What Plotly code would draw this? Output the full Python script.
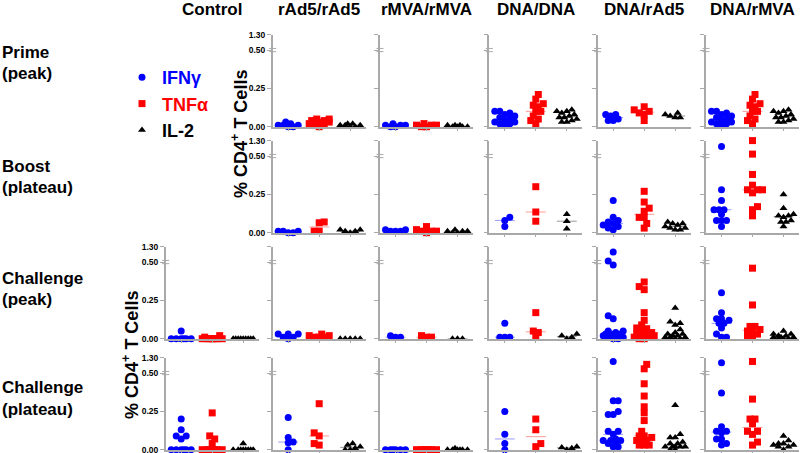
import plotly.graph_objects as go
import numpy as np

# ==========================================
# DATA (% CD4+ T cells)
# ==========================================
REGIMENS = ["Control", "rAd5/rAd5", "rMVA/rMVA", "DNA/DNA", "DNA/rAd5", "DNA/rMVA"]
TIMEPOINTS = [("Prime", "(peak)"), ("Boost", "(plateau)"),
              ("Challenge", "(peak)"), ("Challenge", "(plateau)")]
CYTOKINES = ["IFNγ", "TNFα", "IL-2"]

# one list per regimen, None = not measured
prime_ifng = [None,
              [0.03, 0.02, 0.01, 0.01, 0.01, 0.00, 0.00],
              [0.02, 0.01, 0.01, 0.01, 0.00, 0.00],
              [0.10, 0.10, 0.09, 0.08, 0.07, 0.06, 0.05, 0.04, 0.03, 0.03, 0.02, 0.02, 0.01],
              [0.08, 0.08, 0.07, 0.05, 0.04, 0.04],
              [0.10, 0.10, 0.09, 0.08, 0.07, 0.06, 0.05, 0.04, 0.03, 0.03, 0.02, 0.02, 0.01]]
prime_tnfa = [None,
              [0.05, 0.05, 0.04, 0.04, 0.03, 0.03, 0.02, 0.02, 0.01, 0.00],
              [0.02, 0.01, 0.01, 0.01, 0.00, 0.00],
              [0.21, 0.18, 0.15, 0.14, 0.13, 0.10, 0.10, 0.07, 0.05, 0.04, 0.02],
              [0.13, 0.11, 0.10, 0.09, 0.08, 0.04],
              [0.21, 0.18, 0.15, 0.14, 0.13, 0.10, 0.10, 0.07, 0.05, 0.04, 0.02]]
prime_il2 = [None,
             [0.02, 0.02, 0.01, 0.01, 0.01, 0.00, 0.00],
             [0.01, 0.01, 0.01, 0.00, 0.00, 0.00, 0.00],
             [0.11, 0.10, 0.10, 0.09, 0.08, 0.07, 0.06, 0.06, 0.05, 0.04, 0.03, 0.03],
             [0.09, 0.08, 0.07, 0.06, 0.06],
             [0.11, 0.10, 0.10, 0.09, 0.08, 0.07, 0.06, 0.06, 0.05, 0.04, 0.03, 0.03]]

boost_ifng = [None,
              [0.01, 0.01, 0.01, 0.00, 0.00],
              [0.02, 0.02, 0.01, 0.01, 0.01],
              [0.10, 0.08, 0.04],
              [0.21, 0.10, 0.08, 0.07, 0.06, 0.05, 0.04, 0.03, 0.02],
              [1.00, 0.28, 0.21, 0.15, 0.15, 0.15, 0.12, 0.08, 0.08, 0.08, 0.04]]
boost_tnfa = [None,
              [0.07, 0.065, 0.01, 0.01],
              [0.04, 0.02, 0.01, 0.01, 0.01, 0.00],
              [0.30, 0.135, 0.075],
              [0.27, 0.20, 0.16, 0.14, 0.10, 0.10, 0.06, 0.03],
              [1.30, 0.60, 0.38, 0.31, 0.28, 0.28, 0.28, 0.26, 0.17, 0.15, 0.11]]
boost_il2 = [None,
             [0.02, 0.02, 0.01, 0.01, 0.00],
             [0.02, 0.01, 0.01, 0.01, 0.00, 0.00],
             [0.12, 0.075, 0.025],
             [0.07, 0.06, 0.06, 0.05, 0.04, 0.03, 0.03, 0.02, 0.02],
             [0.25, 0.16, 0.12, 0.11, 0.11, 0.10, 0.08, 0.07, 0.07, 0.04]]

chpeak_ifng = [[0.05, 0.00, 0.00, 0.00, 0.00, 0.00, 0.00],
               [0.03, 0.03, 0.03, 0.01, 0.01, 0.00],
               [0.02, 0.01, 0.01],
               [0.10, 0.01, 0.01, 0.01],
               [1.02, 0.55, 0.48, 0.15, 0.13, 0.05, 0.05, 0.04, 0.03, 0.03, 0.03, 0.02, 0.02, 0.01, 0.01, 0.00, 0.00],
               [0.30, 0.17, 0.13, 0.13, 0.12, 0.10, 0.10, 0.07, 0.03, 0.01, 0.01]]
chpeak_tnfa = [[0.02, 0.01, 0.00, 0.00, 0.00, 0.00, 0.00, 0.00, 0.00],
               [0.03, 0.02, 0.02, 0.01, 0.01, 0.01],
               [0.02, 0.01, 0.01],
               [0.17, 0.05, 0.04, 0.01],
               [0.37, 0.34, 0.32, 0.17, 0.12, 0.09, 0.07, 0.065, 0.05, 0.04, 0.03, 0.03, 0.02, 0.02, 0.01, 0.01, 0.00, 0.00],
               [0.46, 0.22, 0.08, 0.08, 0.06, 0.05, 0.05, 0.03, 0.01, 0.01]]
chpeak_il2 = [[0.00, 0.00, 0.00, 0.00, 0.00, 0.00, 0.00, 0.00, 0.00],
              [0.00, 0.00, 0.00, 0.00, 0.00],
              [0.00, 0.00, 0.00],
              [0.03, 0.02, 0.01, 0.00],
              [0.20, 0.11, 0.10, 0.09, 0.06, 0.04, 0.03, 0.03, 0.02, 0.02, 0.01, 0.01, 0.01, 0.00, 0.00],
              [0.05, 0.03, 0.03, 0.02, 0.02, 0.01, 0.01, 0.01, 0.00, 0.00, 0.00]]

chplat_ifng = [[0.20, 0.13, 0.09, 0.09, 0.07, 0.00, 0.00, 0.00, 0.00, 0.00, 0.00],
               [0.21, 0.08, 0.05, 0.045, 0.00],
               [0.00, 0.00, 0.00, 0.00, 0.00, 0.00],
               [0.25, 0.10, 0.04, 0.00],
               [1.10, 0.32, 0.32, 0.25, 0.23, 0.23, 0.12, 0.12, 0.10, 0.07, 0.06, 0.06, 0.06, 0.05, 0.04, 0.02, 0.02],
               [1.03, 0.37, 0.15, 0.12, 0.12, 0.11, 0.07, 0.07, 0.04, 0.03]]
chplat_tnfa = [[0.24, 0.09, 0.07, 0.04, 0.00, 0.00, 0.00, 0.00, 0.00, 0.00, 0.00],
               [0.30, 0.11, 0.09, 0.04, 0.03],
               [0.00, 0.00, 0.00, 0.00, 0.00, 0.00, 0.00],
               [0.20, 0.13, 0.04, 0.02],
               [0.95, 0.72, 0.43, 0.35, 0.28, 0.24, 0.19, 0.12, 0.09, 0.09, 0.08, 0.06, 0.06, 0.06, 0.03, 0.03, 0.03],
               [1.10, 0.33, 0.20, 0.20, 0.17, 0.12, 0.12, 0.10, 0.05, 0.03]]
chplat_il2 = [[0.04, 0.00, 0.00, 0.00, 0.00, 0.00, 0.00, 0.00, 0.00],
              [0.04, 0.03, 0.02, 0.01, 0.00, 0.00],
              [0.01, 0.00, 0.00, 0.00, 0.00, 0.00, 0.00],
              [0.02, 0.015, 0.01, 0.00],
              [0.29, 0.10, 0.08, 0.08, 0.05, 0.04, 0.04, 0.02, 0.02, 0.02, 0.02, 0.02, 0.00, 0.00],
              [0.09, 0.06, 0.04, 0.04, 0.03, 0.03, 0.02, 0.02, 0.00]]

ROWS = [(prime_ifng, prime_tnfa, prime_il2),
        (boost_ifng, boost_tnfa, boost_il2),
        (chpeak_ifng, chpeak_tnfa, chpeak_il2),
        (chplat_ifng, chplat_tnfa, chplat_il2)]

# ==========================================
# STYLE / LAYOUT
# ==========================================
W, H = 800, 453
COLORS = ["#0000ff", "#ff0000", "#000000"]
MEDIAN_COLORS = ["#9a9aff", "#ff9a9a", "#9a9a9a"]
SYMBOLS = ["circle", "square", "triangle-up"]
AXIS_GRAY = "#a9a9a9"
FONT = "Arial, Liberation Sans, sans-serif"

COL_X = [165.7, 272.7, 380.0, 489.3, 597.7, 706.0]   # pixel x of each y-axis
ROW_Y0 = [126.7, 232.7, 338.7, 449.7]               # pixel y of 0.00
ROW_LABEL_Y = [63, 176.5, 288.5, 398.5]             # pixel centre of row labels
PW = 93.0                                          # panel width px
PX_PER_Y = 153.3                                   # px per 1.0 on linear part
PX_PER_X = PW / 3.0

# broken y axis: 0-0.5 linear, 0.5-1.3 compressed
BREAK = 0.5
TOP = 1.3
K = 0.126


def to_axis(v):
    return v if v <= BREAK else BREAK + (v - BREAK) * K


YMAX = to_axis(TOP)
PH = YMAX * PX_PER_Y


def swarm(disp, center, diam=5.0, step=2.5, maxoff=11.0):
    """simple beeswarm: returns x positions in axis units"""
    n = len(disp)
    xs = [center] * n
    placed = []
    for i in sorted(range(n), key=lambda j: disp[j]):
        yp = disp[i] * PX_PER_Y
        cands = [0.0]
        k = 1
        while k * step <= maxoff:
            cands += [k * step, -k * step] if (i % 2 == 0) else [-k * step, k * step]
            k += 1
        best, best_d, best_off = None, -1, 0.0
        for off in cands:
            dmin = min([np.hypot(off - px, yp - py) for px, py in placed] or [99])
            if dmin >= diam:
                best = off
                break
            if dmin > best_d:
                best_d, best_off = dmin, off
        if best is None:
            best = best_off
        placed.append((best, yp))
        xs[i] = center + best / PX_PER_X
    return xs


fig = go.Figure()
layout = {}
shapes = []
legend_done = [False, False, False]
n = 0

for r, row in enumerate(ROWS):
    for c in range(6):
        if row[0][c] is None:
            continue
        n += 1
        xa, ya = f"x{n}", f"y{n}"
        suffix = "" if n == 1 else str(n)
        show_labels = (r < 2 and c == 1) or (r >= 2 and c == 0)

        layout[f"xaxis{suffix}"] = dict(
            domain=[COL_X[c] / W, (COL_X[c] + PW) / W], anchor=ya,
            range=[0, 3], showgrid=False, zeroline=False,
            showline=True, linecolor=AXIS_GRAY, linewidth=1.5,
            tickvals=[0.5, 1.5, 2.5], ticks="outside", ticklen=3,
            tickcolor=AXIS_GRAY, showticklabels=False, fixedrange=True,
            automargin=False)
        layout[f"yaxis{suffix}"] = dict(
            domain=[(H - ROW_Y0[r]) / H, (H - ROW_Y0[r] + PH) / H], anchor=xa,
            range=[0, YMAX], showgrid=False, zeroline=False,
            showline=True, linecolor=AXIS_GRAY, linewidth=1.5,
            tickvals=[0, 0.25, 0.5, YMAX], ticktext=["0.00", "0.25", "0.50", "1.30"],
            ticks="outside", ticklen=4, tickcolor=AXIS_GRAY,
            showticklabels=show_labels, ticklabeloverflow="allow",
            tickfont=dict(family=FONT, size=8.5, color="black", weight="bold"),
            fixedrange=True, automargin=False)

        # axis break mark at 0.50
        yb = ROW_Y0[r] - BREAK * PX_PER_Y
        for dy in (-1.6, 1.6):
            shapes.append(dict(type="line", xref="paper", yref="paper",
                               x0=(COL_X[c] - 3.5) / W, x1=(COL_X[c] + 3.5) / W,
                               y0=(H - yb - dy) / H, y1=(H - yb - dy) / H,
                               line=dict(color=AXIS_GRAY, width=1)))

        for k in range(3):
            vals = row[k][c]
            disp = [to_axis(v) for v in vals]
            center = 0.5 + k
            med = to_axis(float(np.median(vals)))
            fig.add_trace(go.Scatter(
                x=[center - 0.32, center + 0.32], y=[med, med], mode="lines",
                line=dict(color=MEDIAN_COLORS[k], width=1),
                xaxis=xa, yaxis=ya, showlegend=False, hoverinfo="skip"))
            fig.add_trace(go.Scatter(
                x=swarm(disp, center), y=disp, mode="markers",
                marker=dict(symbol=SYMBOLS[k], color=COLORS[k], size=7,
                            line=dict(width=0)),
                name=f"<b><span style='color:{COLORS[k]}'>{CYTOKINES[k]}</span></b>",
                customdata=vals,
                hovertemplate=f"{REGIMENS[c]} {CYTOKINES[k]}: %{{customdata:.3f}}<extra></extra>",
                cliponaxis=False, xaxis=xa, yaxis=ya,
                showlegend=not legend_done[k], legendrank=k + 1))
            legend_done[k] = True

annotations = []
# column titles
for c, name in enumerate(REGIMENS):
    annotations.append(dict(
        text=f"<b>{name}</b>", x=(COL_X[c] + PW / 2) / W, y=(H - 9.5) / H,
        xref="paper", yref="paper", showarrow=False, xanchor="center", yanchor="middle",
        font=dict(family=FONT, size=17, color="black")))
# row labels (two lines each)
for (line1, line2), yc in zip(TIMEPOINTS, ROW_LABEL_Y):
    for text, dy in ((line1, -10.5), (line2, 10.5)):
        annotations.append(dict(
            text=f"<b>{text}</b>", x=0, y=(H - yc - dy) / H, xref="paper", yref="paper",
            showarrow=False, xanchor="left", yanchor="middle", align="left",
            font=dict(family=FONT, size=17, color="black")))
# y axis titles
for xc, yc in [(240, 134), (130, 355)]:
    annotations.append(dict(
        text="<b>% CD4<sup>+</sup> T Cells</b>", x=xc / W, y=(H - yc) / H,
        xref="paper", yref="paper", showarrow=False, textangle=-90,
        xanchor="center", yanchor="middle",
        font=dict(family=FONT, size=18, color="black")))

fig.update_layout(
    **layout,
    width=W, height=H,
    margin=dict(l=0, r=0, t=0, b=0, autoexpand=False),
    paper_bgcolor="white", plot_bgcolor="white",
    annotations=annotations, shapes=shapes,
    showlegend=True,
    legend=dict(x=122 / W, y=(H - 59) / H, xanchor="left", yanchor="top",
                font=dict(family=FONT, size=18, color="black"),
                bgcolor="rgba(0,0,0,0)", tracegroupgap=0),
    font=dict(family=FONT),
)

# page body has a default 8px margin; drop it so the figure fills the window
fig.write_html("out.html", config={"displayModeBar": False},
               post_script="document.body.style.margin='0px';")
